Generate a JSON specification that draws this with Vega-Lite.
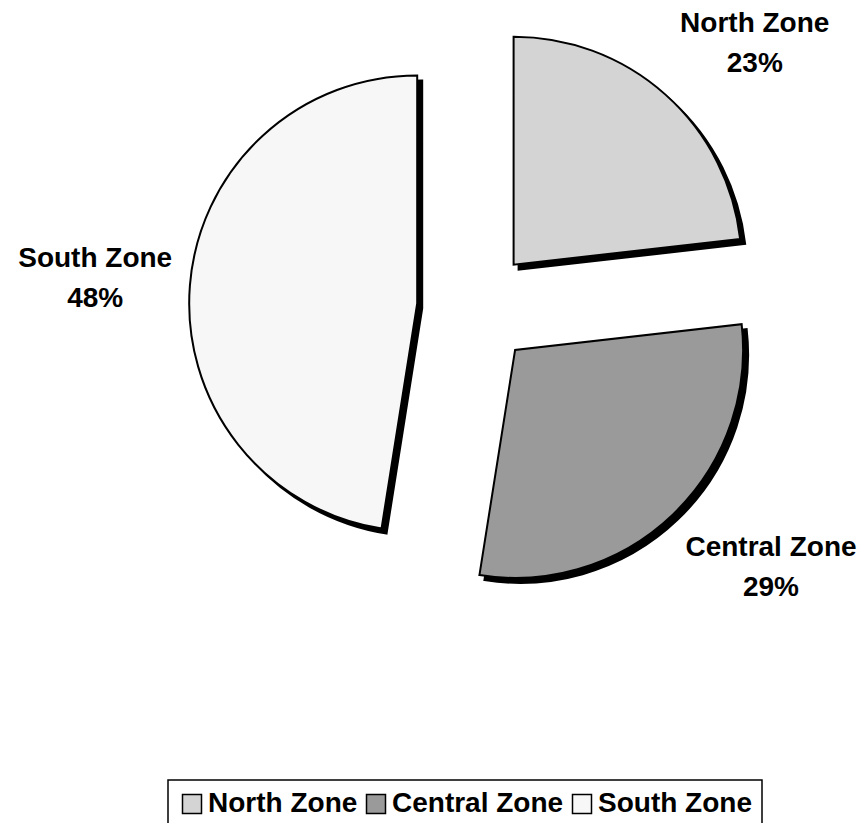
{
  "$schema": "https://vega.github.io/schema/vega-lite/v6.json",
  "width": 782,
  "height": 616,
  "autosize": "none",
  "padding": {"left": 84, "top": 0, "right": 0, "bottom": 207},
  "background": "white",
  "config": {
    "view": {"stroke": null},
    "legend": {
      "orient": "none",
      "legendX": 84,
      "legendY": 780,
      "direction": "horizontal",
      "strokeColor": "black",
      "strokeWidth": 1.5,
      "padding": 10,
      "symbolType": "square",
      "symbolSize": 361,
      "symbolStrokeColor": "black",
      "symbolStrokeWidth": 1.5,
      "labelFont": "Liberation Sans",
      "labelFontWeight": "bold",
      "labelFontSize": 28,
      "labelColor": "black",
      "labelLimit": 0,
      "labelOffset": 2,
      "columnPadding": 4,
      "title": null
    }
  },
  "data": {
    "values": [
      {"zone": "North Zone", "share": 0.232, "rank": 1, "label": ["North Zone", "23%"]},
      {"zone": "Central Zone", "share": 0.293, "rank": 2, "label": ["Central Zone", "29%"]},
      {"zone": "South Zone", "share": 0.475, "rank": 3, "label": ["South Zone", "48%"]}
    ]
  },
  "encoding": {
    "theta": {"field": "share", "type": "quantitative", "stack": true},
    "order": {"field": "rank", "type": "quantitative"}
  },
  "layer": [
    {
      "mark": {"type": "arc", "radius": 228, "fill": "black", "stroke": "black", "strokeWidth": 2, "xOffset": 43.6, "yOffset": -38.3},
      "encoding": {"opacity": {"condition": {"test": "datum.zone === 'North Zone'", "value": 1}, "value": 0}}
    },
    {
      "mark": {"type": "arc", "radius": 228, "fill": "black", "stroke": "black", "strokeWidth": 2, "xOffset": 45.1, "yOffset": 46.9},
      "encoding": {"opacity": {"condition": {"test": "datum.zone === 'Central Zone'", "value": 1}, "value": 0}}
    },
    {
      "mark": {"type": "arc", "radius": 228, "fill": "black", "stroke": "black", "strokeWidth": 2, "xOffset": -52.8, "yOffset": 0.4},
      "encoding": {"opacity": {"condition": {"test": "datum.zone === 'South Zone'", "value": 1}, "value": 0}}
    },
    {
      "mark": {"type": "arc", "radius": 228, "stroke": "black", "strokeWidth": 2, "xOffset": 38.6, "yOffset": -43.3},
      "encoding": {
        "color": {"field": "zone", "type": "nominal", "scale": {"domain": ["North Zone", "Central Zone", "South Zone"], "range": ["#d4d4d4", "#9a9a9a", "#f7f7f7"]}},
        "opacity": {"condition": {"test": "datum.zone === 'North Zone'", "value": 1}, "value": 0}
      }
    },
    {
      "mark": {"type": "arc", "radius": 228, "stroke": "black", "strokeWidth": 2, "xOffset": 40.1, "yOffset": 41.9},
      "encoding": {
        "color": {"field": "zone", "type": "nominal"},
        "opacity": {"condition": {"test": "datum.zone === 'Central Zone'", "value": 1}, "value": 0}
      }
    },
    {
      "mark": {"type": "arc", "radius": 228, "stroke": "black", "strokeWidth": 2, "xOffset": -57.8, "yOffset": -4.6},
      "encoding": {
        "color": {"field": "zone", "type": "nominal"},
        "opacity": {"condition": {"test": "datum.zone === 'South Zone'", "value": 1}, "value": 0}
      }
    },
    {
      "mark": {"type": "text", "radius": 384, "font": "Liberation Sans", "fontWeight": "bold", "fontSize": 28, "lineHeight": 40, "align": "center", "baseline": "middle", "color": "black", "xOffset": 24, "yOffset": 2},
      "encoding": {
        "text": {"field": "label"},
        "opacity": {"condition": {"test": "datum.zone === 'North Zone'", "value": 1}, "value": 0}
      }
    },
    {
      "mark": {"type": "text", "radius": 384, "font": "Liberation Sans", "fontWeight": "bold", "fontSize": 28, "lineHeight": 40, "align": "center", "baseline": "middle", "color": "black", "xOffset": 30.5, "yOffset": -37},
      "encoding": {
        "text": {"field": "label"},
        "opacity": {"condition": {"test": "datum.zone === 'Central Zone'", "value": 1}, "value": 0}
      }
    },
    {
      "mark": {"type": "text", "radius": 384, "font": "Liberation Sans", "fontWeight": "bold", "fontSize": 28, "lineHeight": 40, "align": "center", "baseline": "middle", "color": "black", "xOffset": 3, "yOffset": -18.5},
      "encoding": {
        "text": {"field": "label"},
        "opacity": {"condition": {"test": "datum.zone === 'South Zone'", "value": 1}, "value": 0}
      }
    }
  ]
}
